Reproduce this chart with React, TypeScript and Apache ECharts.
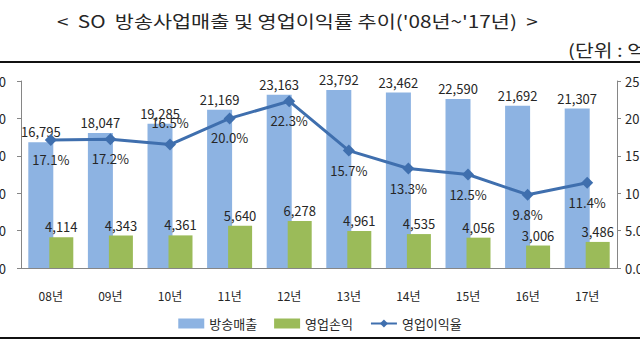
import React, { useEffect, useRef } from "react";
import * as echarts from "echarts";

const categories = ["08년", "09년", "10년", "11년", "12년", "13년", "14년", "15년", "16년", "17년"];
const revenue = [16795, 18047, 19285, 21169, 23163, 23792, 23462, 22590, 21692, 21307];
const operatingProfit = [4114, 4343, 4361, 5640, 6278, 4961, 4535, 4056, 3006, 3486];
const marginRate = [17.1, 17.2, 16.5, 20.0, 22.3, 15.7, 13.3, 12.5, 9.8, 11.4];
const marginLabelPos = ["bottom", "bottom", "top", "bottom", "bottom", "bottom", "bottom", "bottom", "bottom", "bottom"];

const FONT = "'Noto Sans CJK KR', 'Noto Sans', sans-serif";
const TEXT = "#262626";

export default function App() {
  const ref = useRef<HTMLDivElement>(null);
  useEffect(() => {
    if (!ref.current) return;
    const chart = echarts.init(ref.current, null, { renderer: "svg" });
    chart.setOption({
      animation: false,
      backgroundColor: "#ffffff",
      textStyle: { fontFamily: FONT },
      graphic: [
        {
          type: "text",
          x: 57,
          y: 20,
          scaleX: 1.22,
          style: {
            text: "<  SO  방송사업매출 및 영업이익률 추이('08년~'17년)  >",
            font: `17px ${FONT}`,
            fill: TEXT,
            verticalAlign: "middle",
          },
        },
        {
          type: "text",
          x: 568,
          y: 49,
          scaleX: 1.2,
          style: {
            text: "(단위 : 억원, %)",
            font: `17px ${FONT}`,
            fill: TEXT,
            verticalAlign: "middle",
          },
        },
        { type: "rect", shape: { x: 0, y: 61, width: 640, height: 2 }, style: { fill: "#111" } },
        { type: "rect", shape: { x: 0, y: 337, width: 640, height: 2 }, style: { fill: "#111" } },
      ],
      grid: { left: 21, right: 23, top: 81, bottom: 82, outerBoundsMode: "none" },
      legend: {
        top: 312,
        left: "center",
        itemWidth: 26,
        itemHeight: 10,
        itemGap: 17,
        textStyle: { fontFamily: FONT, fontSize: 13, color: TEXT },
        data: [
          { name: "방송매출", icon: "rect" },
          { name: "영업손익", icon: "rect" },
          { name: "영업이익율" },
        ],
      },
      xAxis: {
        type: "category",
        data: categories,
        axisLine: { lineStyle: { color: "#868686" } },
        axisTick: { length: 5, lineStyle: { color: "#868686" } },
        axisLabel: { margin: 21, fontSize: 12, color: TEXT, fontFamily: FONT },
      },
      yAxis: [
        {
          type: "value",
          min: 0,
          max: 25000,
          interval: 5000,
          axisLine: { show: true, lineStyle: { color: "#868686" } },
          axisTick: { show: true, length: 4, lineStyle: { color: "#868686" } },
          splitLine: { show: false },
          axisLabel: {
            margin: 15,
            fontSize: 13,
            color: TEXT,
            fontFamily: FONT,
            formatter: (v: number) => v.toLocaleString("en-US"),
          },
        },
        {
          type: "value",
          min: 0,
          max: 25,
          interval: 5,
          position: "right",
          axisLine: { show: true, lineStyle: { color: "#868686" } },
          axisTick: { show: true, length: 4, lineStyle: { color: "#868686" } },
          splitLine: { show: false },
          axisLabel: {
            margin: 8,
            fontSize: 13,
            color: TEXT,
            fontFamily: FONT,
            formatter: (v: number) => v.toFixed(1),
          },
        },
      ],
      series: [
        {
          name: "방송매출",
          type: "bar",
          data: revenue,
          barWidth: 25,
          barGap: "-16%",
          itemStyle: { color: "#8DB3E2" },
          label: {
            show: true,
            position: "top",
            distance: 4,
            fontSize: 13,
            color: TEXT,
            fontFamily: FONT,
            formatter: (p: any) => Number(p.value).toLocaleString("en-US"),
          },
        },
        {
          name: "영업손익",
          type: "bar",
          data: operatingProfit,
          barWidth: 24,
          itemStyle: { color: "#9BBB59" },
          label: {
            show: true,
            position: "top",
            distance: 4,
            fontSize: 13,
            color: TEXT,
            fontFamily: FONT,
            formatter: (p: any) => Number(p.value).toLocaleString("en-US"),
          },
        },
        {
          name: "영업이익율",
          type: "line",
          yAxisIndex: 1,
          data: marginRate.map((v, i) => ({
            value: v,
            label: { position: marginLabelPos[i], distance: marginLabelPos[i] === "top" ? 10 : 7 },
          })),
          symbol: "diamond",
          symbolSize: 12,
          lineStyle: { color: "#3F6FAE", width: 3 },
          itemStyle: { color: "#3F6FAE" },
          label: {
            show: true,
            fontSize: 13,
            color: TEXT,
            fontFamily: FONT,
            formatter: (p: any) => Number(p.value).toFixed(1) + "%",
          },
          z: 5,
        },
      ],
    });
    return () => chart.dispose();
  }, []);
  return (
    <div
      ref={ref}
      style={{ position: "fixed", left: 0, top: 0, width: 640, height: 350 }}
    />
  );
}
